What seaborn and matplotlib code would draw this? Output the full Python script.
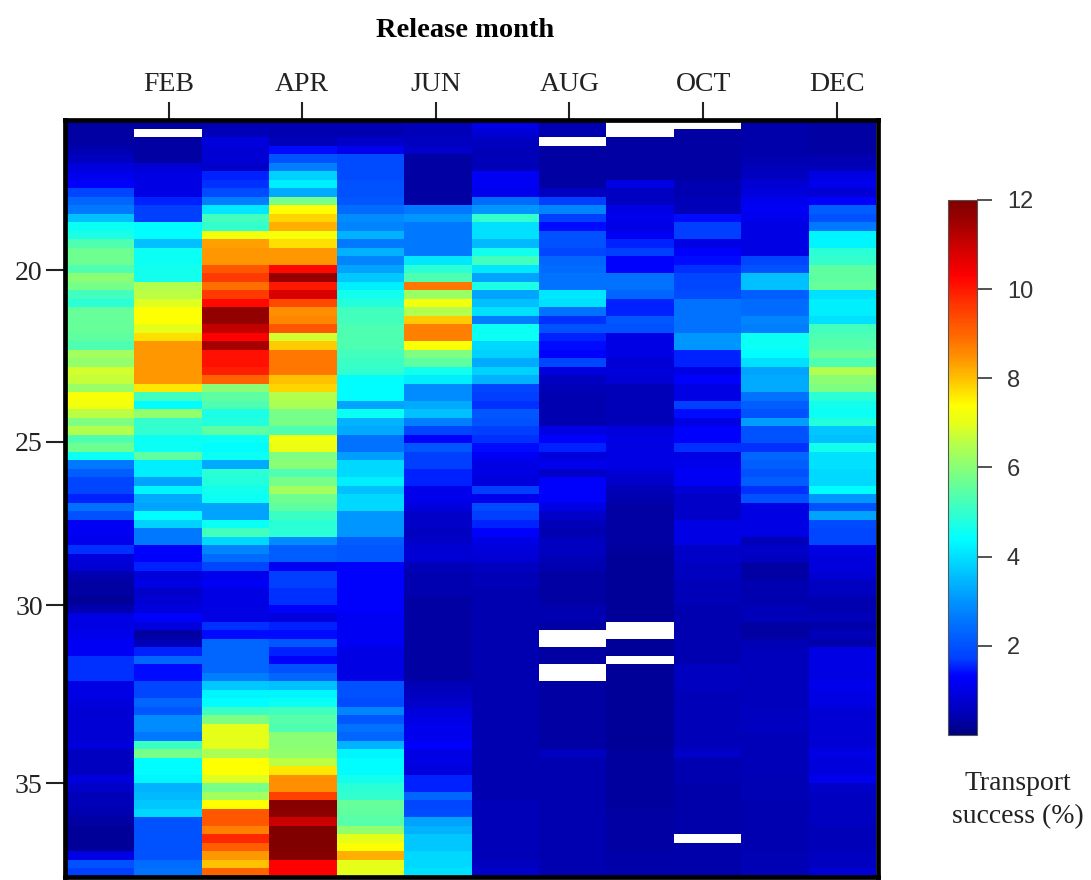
import numpy as np
import pandas as pd
import matplotlib
matplotlib.use("Agg")
import matplotlib.pyplot as plt
from matplotlib.colors import LinearSegmentedColormap
import seaborn as sns

# -----------------------------------------
# Data: transport success (%) per latitude row
# nan = white (no data)
# -----------------------------------------
nan = np.nan

months = ["JAN", "FEB", "MAR", "APR", "MAY", "JUN", "JUL", "AUG", "SEP", "OCT", "NOV", "DEC"]
month_labels = ["FEB", "APR", "JUN", "AUG", "OCT", "DEC"]
lat_labels = [20, 25, 30, 35]
cbar_labels = [2, 4, 6, 8, 10, 12]

jan = [0.3, 0.3, 0.3, 0.4, 0.6, 0.9, 1.1, 1.3, 1.8, 2.3,
       2.6, 3.6, 4.5, 4.7, 5.3, 5.7, 5.7, 5.3, 6.0, 5.8,
       5.2, 4.9, 5.6, 5.6, 5.6, 5.5, 5.3, 6.3, 6.1, 6.8,
       6.7, 6.2, 7.3, 7.2, 6.6, 5.9, 6.5, 5.3, 5.7, 4.5,
       2.6, 2.2, 1.8, 1.8, 1.5, 2.5, 2.0, 1.2, 1.2, 1.1,
       1.6, 0.9, 0.8, 0.4, 0.3, 0.3, 0.2, 0.4, 1.0, 1.0,
       1.1, 1.2, 1.2, 1.6, 1.6, 1.6, 1.0, 1.0, 0.9, 0.8,
       0.8, 0.8, 0.8, 0.9, 0.6, 0.6, 0.6, 0.9, 0.7, 0.5,
       0.5, 0.4, 0.3, 0.2, 0.2, 0.2, 1.0, 2.0, 1.7]
feb = [0.3, nan, 0.3, 0.3, 0.3, 0.8, 1.0, 1.0, 1.0, 1.5,
       1.7, 1.7, 4.4, 4.4, 3.6, 4.5, 4.5, 4.6, 4.6, 6.5,
       6.6, 6.9, 7.4, 7.4, 7.0, 7.7, 8.4, 8.4, 8.4, 8.4,
       8.4, 7.6, 5.2, 4.4, 6.1, 5.0, 5.0, 4.5, 4.5, 5.5,
       4.2, 4.2, 3.2, 4.3, 3.3, 3.2, 4.4, 3.8, 2.6, 2.6,
       1.3, 1.3, 1.5, 0.9, 1.0, 0.7, 0.8, 0.9, 1.3, 0.9,
       0.3, 0.5, 1.5, 2.3, 1.4, 1.4, 1.8, 1.8, 2.3, 2.1,
       2.9, 2.9, 2.6, 5.1, 5.8, 4.4, 4.4, 4.3, 3.4, 3.5,
       3.7, 3.9, 2.0, 2.0, 2.0, 2.0, 2.0, 2.4, 2.5]
mar = [0.4, 0.5, 0.9, 0.8, 0.8, 0.7, 1.5, 1.6, 1.9, 2.7,
       4.1, 5.2, 5.0, 7.2, 8.3, 8.4, 8.4, 9.2, 9.6, 8.9,
       9.6, 10.2, 11.7, 11.7, 11.1, 10.3, 11.4, 10.1, 10.1, 9.9,
       9.0, 6.0, 5.5, 5.3, 4.7, 4.8, 5.5, 4.5, 4.4, 4.5,
       3.3, 4.9, 4.8, 4.6, 4.5, 3.2, 3.2, 4.5, 5.2, 3.9,
       2.8, 2.4, 1.8, 1.1, 1.2, 1.0, 1.0, 1.0, 1.0, 1.6,
       1.4, 2.3, 2.3, 2.3, 2.3, 2.7, 3.7, 4.3, 4.4, 5.1,
       5.9, 7.0, 7.0, 7.0, 6.4, 7.4, 7.4, 6.9, 5.8, 6.3,
       7.4, 9.2, 9.2, 8.7, 9.8, 9.1, 8.4, 8.0, 9.0]
apr = [0.4, 0.4, 0.5, 1.4, 2.0, 2.7, 3.8, 4.2, 3.3, 5.8,
       7.4, 7.8, 8.2, 7.3, 7.7, 8.4, 8.4, 10.2, 11.6, 10.0,
       10.8, 9.4, 8.5, 8.6, 9.2, 6.8, 7.9, 8.8, 8.8, 8.8,
       8.0, 7.8, 6.5, 6.4, 5.8, 5.8, 5.3, 7.2, 7.1, 5.9,
       6.0, 5.3, 5.8, 6.3, 5.7, 5.5, 5.1, 4.9, 4.9, 2.9,
       2.2, 2.2, 1.2, 1.7, 1.7, 1.6, 1.6, 1.3, 0.9, 1.5,
       1.4, 2.1, 1.5, 1.3, 2.0, 2.3, 3.6, 4.3, 4.5, 5.2,
       5.4, 5.3, 6.0, 6.0, 6.1, 6.6, 7.6, 8.5, 8.5, 9.5,
       11.9, 11.8, 11.0, 12.0, 12.0, 12.0, 11.9, 10.3, 10.3]
may = [0.4, 0.4, 0.7, 1.1, 1.9, 1.9, 1.9, 2.0, 2.0, 2.1,
       2.4, 2.9, 2.8, 3.4, 2.6, 3.4, 2.8, 3.2, 3.7, 4.2,
       4.6, 4.8, 5.2, 5.2, 5.3, 5.3, 5.3, 5.2, 5.1, 5.0,
       4.4, 4.4, 4.4, 3.2, 4.5, 3.4, 3.3, 2.5, 2.5, 3.1,
       3.9, 3.9, 4.2, 3.6, 3.9, 3.9, 3.0, 3.0, 3.0, 2.2,
       2.1, 2.1, 1.3, 1.3, 1.3, 1.3, 1.3, 1.3, 1.2, 1.2,
       1.2, 1.2, 1.0, 1.0, 1.0, 1.0, 2.0, 2.0, 1.9, 2.8,
       2.1, 2.5, 2.3, 3.4, 4.3, 4.4, 4.4, 4.6, 4.9, 5.0,
       5.6, 5.5, 5.4, 6.1, 7.0, 7.4, 8.2, 7.0, 7.0]
jun = [0.5, 0.5, 0.6, 0.7, 0.3, 0.3, 0.3, 0.3, 0.3, 0.3,
       2.6, 3.0, 2.6, 2.6, 2.6, 2.6, 4.1, 4.9, 5.3, 8.8,
       6.2, 7.2, 6.5, 7.9, 8.7, 8.7, 7.3, 5.9, 5.5, 4.6,
       4.2, 2.9, 2.9, 3.3, 3.6, 2.7, 1.8, 1.3, 2.1, 1.7,
       1.7, 1.5, 1.5, 1.1, 1.1, 0.9, 0.7, 0.7, 0.6, 0.7,
       0.8, 0.8, 0.5, 0.4, 0.4, 0.4, 0.3, 0.3, 0.3, 0.3,
       0.3, 0.3, 0.3, 0.3, 0.3, 0.3, 0.5, 0.6, 0.7, 0.9,
       1.0, 1.1, 1.1, 1.3, 1.0, 1.0, 0.9, 1.5, 1.5, 2.3,
       1.8, 1.9, 3.2, 3.4, 3.7, 3.7, 3.9, 3.9, 4.0]
jul = [1.0, 0.8, 0.6, 0.5, 0.5, 0.5, 1.2, 1.2, 1.1, 2.4,
       3.0, 5.0, 4.0, 4.0, 3.5, 4.6, 5.2, 4.1, 3.2, 4.7,
       3.2, 3.6, 4.0, 2.7, 4.5, 4.5, 3.9, 3.8, 3.3, 3.8,
       3.4, 1.8, 1.7, 1.6, 2.1, 2.0, 1.7, 1.6, 1.4, 1.2,
       1.0, 1.0, 0.9, 1.7, 1.1, 1.9, 1.7, 1.5, 1.3, 1.0,
       0.9, 0.8, 0.6, 0.5, 0.5, 0.4, 0.4, 0.4, 0.4, 0.4,
       0.4, 0.4, 0.4, 0.4, 0.4, 0.4, 0.4, 0.4, 0.4, 0.4,
       0.4, 0.4, 0.4, 0.4, 0.4, 0.4, 0.4, 0.4, 0.4, 0.4,
       0.5, 0.5, 0.5, 0.5, 0.5, 0.5, 0.5, 0.6, 0.7]
aug = [0.4, 0.4, nan, 0.3, 0.3, 0.3, 0.3, 0.3, 0.6, 1.7,
       2.8, 1.7, 1.4, 2.0, 2.0, 1.8, 2.3, 2.4, 2.5, 2.5,
       4.1, 4.0, 2.5, 1.6, 2.0, 1.5, 1.4, 1.3, 1.8, 0.9,
       0.6, 0.5, 0.4, 0.4, 0.4, 0.4, 1.0, 1.3, 1.5, 0.9,
       1.1, 0.7, 1.3, 1.3, 1.3, 1.0, 0.7, 0.5, 0.4, 0.6,
       0.6, 0.5, 0.4, 0.3, 0.3, 0.3, 0.3, 0.4, 0.4, 0.3,
       nan, nan, 0.3, 0.3, nan, nan, 0.3, 0.3, 0.3, 0.3,
       0.3, 0.3, 0.3, 0.3, 0.6, 0.4, 0.4, 0.4, 0.4, 0.4,
       0.4, 0.4, 0.4, 0.4, 0.4, 0.4, 0.4, 0.4, 0.4]
sep = [nan, nan, 0.3, 0.3, 0.3, 0.3, 0.3, 1.0, 0.6, 0.6,
       1.0, 1.1, 1.0, 1.2, 1.5, 1.7, 1.3, 1.3, 2.5, 2.5,
       2.3, 1.5, 1.5, 2.1, 2.0, 1.0, 1.0, 1.0, 0.8, 0.9,
       0.8, 0.5, 0.5, 0.5, 0.5, 0.5, 0.9, 1.0, 1.0, 1.0,
       1.0, 0.8, 0.7, 0.5, 0.4, 0.3, 0.3, 0.3, 0.3, 0.3,
       0.25, 0.2, 0.2, 0.2, 0.2, 0.2, 0.2, 0.2, 0.2, nan,
       nan, 0.2, 0.2, nan, 0.2, 0.2, 0.2, 0.2, 0.2, 0.2,
       0.2, 0.2, 0.2, 0.2, 0.25, 0.25, 0.25, 0.25, 0.25, 0.25,
       0.25, 0.3, 0.3, 0.3, 0.3, 0.3, 0.35, 0.35, 0.35]
oct_ = [nan, 0.3, 0.3, 0.3, 0.3, 0.3, 0.3, 0.4, 0.4, 0.5,
        0.5, 1.4, 1.7, 1.7, 1.0, 1.3, 1.4, 1.6, 1.8, 1.8,
        1.9, 2.5, 2.5, 2.5, 2.5, 3.0, 3.0, 1.5, 1.5, 1.0,
        1.3, 1.0, 1.0, 1.7, 1.4, 1.0, 1.3, 1.3, 1.6, 1.0,
        1.1, 1.2, 1.2, 0.8, 0.7, 0.7, 0.7, 1.0, 1.0, 1.0,
        0.7, 0.7, 0.6, 0.6, 0.5, 0.5, 0.5, 0.4, 0.4, 0.4,
        0.4, 0.4, 0.4, 0.4, 0.6, 0.6, 0.6, 0.5, 0.5, 0.5,
        0.5, 0.5, 0.5, 0.5, 0.7, 0.4, 0.4, 0.4, 0.35, 0.35,
        0.35, 0.35, 0.35, 0.35, nan, 0.35, 0.35, 0.35, 0.35]
nov = [0.35, 0.35, 0.35, 0.35, 0.4, 0.5, 0.6, 0.8, 0.9, 1.1,
       1.2, 1.1, 1.0, 1.0, 1.0, 1.0, 1.8, 2.0, 3.6, 3.6,
       2.2, 2.4, 2.4, 2.8, 2.7, 4.5, 4.5, 4.4, 4.0, 3.2,
       3.3, 3.3, 2.5, 2.2, 2.0, 3.1, 2.0, 2.0, 1.6, 2.3,
       2.2, 2.0, 2.2, 1.6, 2.0, 1.0, 1.0, 1.0, 1.0, 0.5,
       0.7, 0.6, 0.3, 0.3, 0.4, 0.4, 0.4, 0.5, 0.5, 0.3,
       0.3, 0.45, 0.55, 0.55, 0.55, 0.55, 0.55, 0.55, 0.55, 0.6,
       0.6, 0.6, 0.5, 0.5, 0.5, 0.5, 0.5, 0.45, 0.45, 0.45,
       0.4, 0.4, 0.4, 0.4, 0.4, 0.4, 0.45, 0.45, 0.45]
dec = [0.3, 0.3, 0.3, 0.3, 0.4, 0.5, 1.0, 1.1, 0.8, 1.3,
       2.2, 2.0, 2.6, 4.3, 4.3, 4.9, 5.0, 5.5, 5.5, 5.6,
       4.0, 4.2, 4.2, 4.0, 5.2, 5.3, 5.4, 5.7, 5.3, 6.5,
       6.0, 5.9, 4.9, 4.6, 4.5, 4.8, 3.7, 3.6, 4.6, 4.0,
       4.0, 3.9, 3.9, 4.4, 3.0, 2.0, 3.2, 1.9, 1.8, 1.8,
       1.0, 0.9, 0.9, 0.8, 0.6, 0.6, 0.4, 0.4, 0.5, 0.35,
       0.5, 0.35, 1.0, 1.0, 1.0, 1.0, 1.1, 1.0, 1.0, 0.8,
       0.8, 0.8, 0.8, 0.8, 1.0, 0.9, 0.9, 1.1, 0.7, 0.6,
       0.6, 0.6, 0.6, 0.5, 0.5, 0.5, 0.6, 0.6, 0.8]

df = pd.DataFrame(dict(zip(months, [jan, feb, mar, apr, may, jun, jul, aug, sep, oct_, nov, dec])))

# colour scale (value, colour)
scale_values = [0, 0.4, 1.3, 1.7, 2.7, 3.4, 4.4, 5.3, 5.9, 6.5, 7.0, 7.4, 7.9, 8.4, 9.0, 9.7, 10.3, 11.0, 11.6, 12]
scale_colors = [(0, 0, 0.5), (0, 0, 0.7), (0, 0, 1), (0, 0.25, 1), (0, 0.5, 1), (0, 0.7, 1), (0, 1, 1),
                (0.3, 1, 0.7), (0.5, 1, 0.5), (0.7, 1, 0.3), (0.9, 1, 0.1), (1, 1, 0), (1, 0.8, 0),
                (1, 0.6, 0), (1, 0.4, 0), (1, 0.2, 0), (1, 0, 0), (0.8, 0, 0), (0.6, 0, 0), (0.5, 0, 0)]
cmap = LinearSegmentedColormap.from_list("transport", [(v / 12, c) for v, c in zip(scale_values, scale_colors)])

# -----------------------------------------
# Figure and heatmap
# -----------------------------------------
W, H = 1091, 880
fig = plt.figure(figsize=(W / 100, H / 100), dpi=100)
ax = fig.add_axes([65 / W, 1 - 877 / H, (878 - 65) / W, (877 - 120) / H])
cax = fig.add_axes([948 / W, 1 - 735 / H, 29 / W, 535 / H])

sns.heatmap(df, ax=ax, cmap=cmap, vmin=0, vmax=12, cbar_ax=cax,
            xticklabels=False, yticklabels=False)

# cells are a bit narrower than the axes, the frame sits round them
ax.set_xlim(-0.03, 12.03)

# thick frame round the cells
for side in ax.spines.values():
    side.set_visible(True)
    side.set_linewidth(3.4)
    side.set_color("black")

# top month ticks, every second column (slightly off centre in the original)
ax.xaxis.tick_top()
ax.set_xticks([1.51, 3.49, 5.47, 7.45, 9.44, 11.42])
ax.set_xticklabels(month_labels, family="Liberation Serif", fontsize=20, color="#222222")
ax.tick_params(axis="x", length=13, width=1.5, pad=3.5, color="#222222")
ax.set_title("Release month", family="Liberation Serif", fontweight="bold", fontsize=20.5,
             x=(465 - 65) / 813, y=1.11, pad=0)

# latitude ticks are not quite evenly spaced in the original
ax.set_yticks([17.65, 37.85, 57.05, 78.0])
ax.set_yticklabels(lat_labels, family="Liberation Serif", fontsize=20, color="#222222", rotation=0)
ax.tick_params(axis="y", length=14, width=1.5, pad=2, color="#222222")

# colourbar
cb = ax.collections[0].colorbar
cb.set_ticks(cbar_labels)
cb.set_ticklabels(cbar_labels)
cb.ax.tick_params(length=10.5, width=1.3, labelsize=17, color="#444444", pad=11, labelcolor="#333333")
for lab in cb.ax.get_yticklabels():
    lab.set_family("Liberation Sans")
cb.outline.set_visible(True)
cb.outline.set_linewidth(0.8)
cb.outline.set_edgecolor("#555555")

fig.text(1018 / W, 1 - 800 / H, "Transport\nsuccess (%)", family="Liberation Serif",
         fontsize=20, ha="center", va="center", linespacing=1.45, color="#222222")

fig.savefig("out.png", dpi=100)
